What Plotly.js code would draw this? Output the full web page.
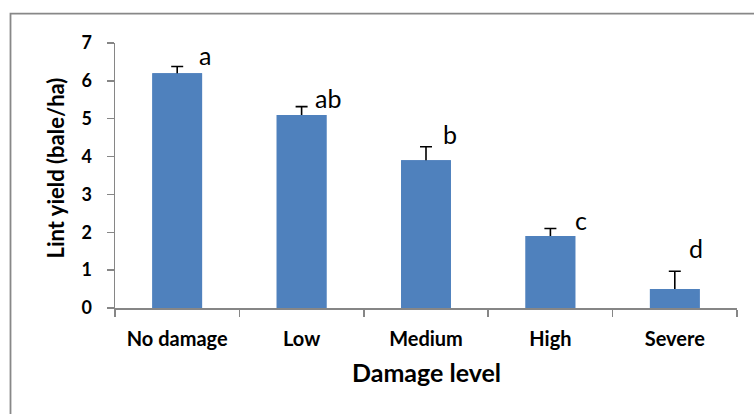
<!DOCTYPE html>
<html>
<head>
<meta charset="utf-8">
<script src="https://cdn.plot.ly/plotly-3.0.1.min.js"></script>
<style>html,body{margin:0;padding:0;background:#fff;}#chart{width:754px;height:414px;}</style>
</head>
<body>
<div id="chart"></div>
<script>
// Data
var categories = ["No damage", "Low", "Medium", "High", "Severe"];
var lintYield = [6.2, 5.1, 3.9, 1.9, 0.5];
var errorUp = [0.18, 0.22, 0.36, 0.2, 0.47];
var sigLetters = ["a", "ab", "b", "c", "d"];
var yTicks = [0, 1, 2, 3, 4, 5, 6, 7];

var FONT = "Lato, 'Open Sans', sans-serif";
var letterXShift = [28, 26, 24, 31, 21];
var letterYShift = [-6, -8, -4, -8, 6];
var BAR = "#4F81BD";

// trace with error bars (symmetric; lower half hidden behind the overlay bar)
var errTrace = {
  type: "bar",
  x: categories,
  y: lintYield,
  width: 0.4,
  marker: {color: BAR, line: {width: 0}},
  error_y: {
    type: "data",
    symmetric: true,
    array: errorUp,
    color: "#000000",
    thickness: 1.6,
    width: 6
  },
  hoverinfo: "none"
};
var barTrace = {
  type: "bar",
  x: categories,
  y: lintYield,
  width: 0.4,
  marker: {color: BAR, line: {width: 0}},
  hoverinfo: "none"
};

var annotations = categories.map(function(c, i){
  return {
    x: c, y: lintYield[i] + errorUp[i], xref: "x", yref: "y",
    text: sigLetters[i], showarrow: false,
    xanchor: "center", yanchor: "bottom",
    xshift: letterXShift[i], yshift: letterYShift[i],
    font: {family: FONT, size: 25, color: "#000"}
  };
});
annotations.push({
  xref: "paper", yref: "paper", x: -0.095, y: 0.53,
  text: "<b>Lint yield (bale/ha)</b>", textangle: -90, showarrow: false,
  xanchor: "center", yanchor: "middle",
  font: {family: FONT, size: 22, color: "#000"}
});
annotations.push({
  xref: "paper", yref: "paper", x: 0.5, y: -0.24,
  text: "<b>Damage level</b>", showarrow: false,
  xanchor: "center", yanchor: "middle",
  font: {family: FONT, size: 25, color: "#000"}
});

var layout = {
  width: 754, height: 414,
  margin: {l: 115, r: 17, t: 43, b: 106, pad: 0},
  paper_bgcolor: "#fff", plot_bgcolor: "#fff",
  showlegend: false,
  barmode: "overlay",
  xaxis: {
    type: "category",
    range: [-0.5, 4.5],
    showline: true, linecolor: "#868686", linewidth: 1.5,
    showgrid: false, zeroline: false,
    ticks: "outside", ticklen: 7, tickcolor: "#868686", tickwidth: 1.5,
    tickson: "boundaries",
    ticklabelstandoff: 12,
    tickfont: {family: FONT, size: 20, color: "#000", weight: "bold"},
    fixedrange: true
  },
  yaxis: {
    range: [0, 7],
    tickvals: yTicks,
    showline: true, linecolor: "#868686", linewidth: 1.5,
    showgrid: false, zeroline: false,
    ticks: "outside", ticklen: 7, tickcolor: "#868686", tickwidth: 1.5,
    ticklabelstandoff: 11,
    tickfont: {family: FONT, size: 18, color: "#000", weight: "bold"},
    fixedrange: true
  },
  annotations: annotations,
  shapes: [{
    type: "rect", xref: "paper", yref: "paper",
    x0: (10.5 - 115) / 622, x1: 1.2, y0: -0.6, y1: (308.3 - 14) / 265,
    line: {color: "#888888", width: 1.8}, fillcolor: "rgba(0,0,0,0)", layer: "below"
  }]
};

Plotly.newPlot("chart", [errTrace, barTrace], layout, {staticPlot: true, displayModeBar: false});
</script>
</body>
</html>
